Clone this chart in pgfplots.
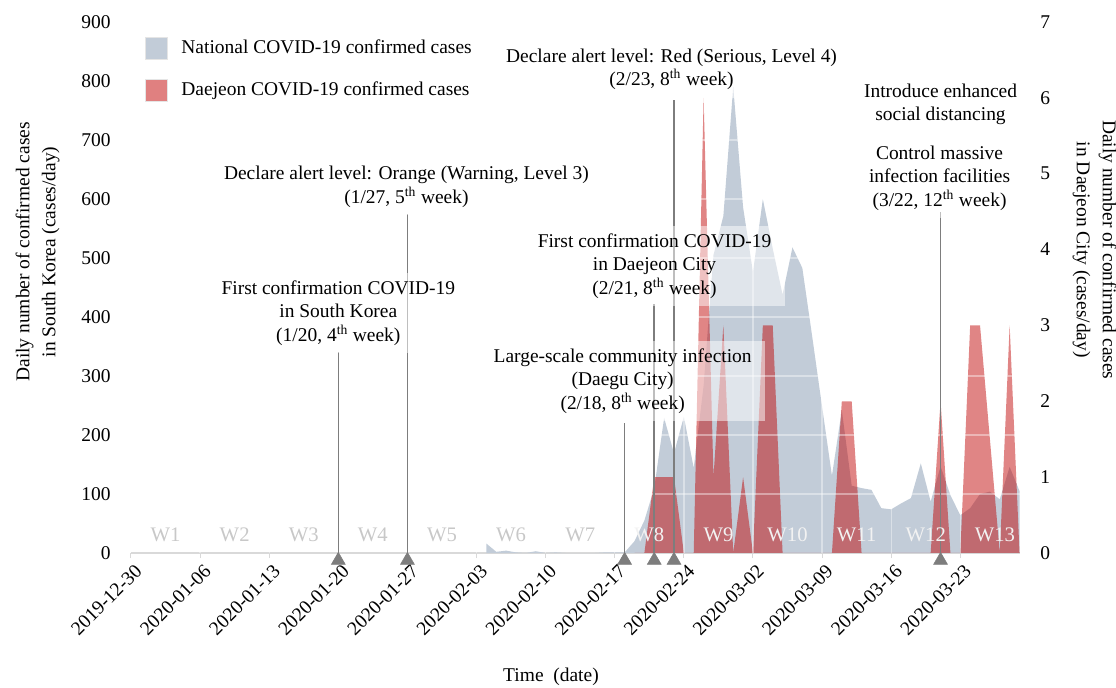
\documentclass[border=0pt]{standalone}
\usepackage{fontspec}
\setmainfont{Liberation Serif}
\usepackage{pgfplots}
\pgfplotsset{compat=1.18}

\definecolor{natfill}{RGB}{194,204,216}
\definecolor{djred}{RGB}{190,0,0}
\definecolor{djlegend}{RGB}{224,128,128}
\definecolor{evgray}{RGB}{125,125,125}
\definecolor{wkgray}{RGB}{200,200,200}
\definecolor{wkwhite}{RGB}{242,242,242}

\tikzset{
  annot/.style={align=center, fill=white, fill opacity=0.5, text opacity=1,
                inner xsep=10pt, inner ysep=6pt},
  wk/.style={inner sep=0pt, font=\fontsize{15.5}{18}\selectfont},
}

\begin{document}
\fontsize{14.6}{17.6}\selectfont
\begin{tikzpicture}
\path[use as bounding box] (-98.25pt,-101.25pt) rectangle (738.75pt,414.75pt);

% left axis: national daily cases
\begin{axis}[
  at={(0pt,0pt)}, anchor=south west, scale only axis,
  width=666.4pt, height=398.25pt,
  xmin=0, xmax=90, ymin=0, ymax=900,
  axis x line*=bottom, axis y line*=left,
  y axis line style={draw=none},
  x axis line style={draw=gray!30, line width=1pt},
  xtick={0,7,...,84},
  xticklabels={2019-12-30,2020-01-06,2020-01-13,2020-01-20,2020-01-27,2020-02-03,2020-02-10,2020-02-17,2020-02-24,2020-03-02,2020-03-09,2020-03-16,2020-03-23},
  xticklabel style={rotate=45, anchor=north east, inner sep=1pt, yshift=-3pt},
  tick align=outside,
  xtick style={draw=gray!30, line width=0.75pt},
  major tick length=3.75pt,
  ytick={0,100,...,900},
  ytick style={draw=none},
  yticklabel style={xshift=-6.5pt},
  /pgf/number format/assume math mode=true,
  xlabel={Time\ \ (date)},
  xlabel style={at={(axis description cs:0.4727,-0.2335)}, anchor=center},
  ylabel={Daily number of confirmed cases\\in South Korea (cases/day)},
  ylabel style={at={(axis description cs:-0.105,0.567)}, anchor=center, align=center,
                font=\fontsize{14.6}{19.5}\selectfont},
]
\addplot[fill=natfill, draw=none] coordinates {
  (36,16) (37,2) (38,4) (39,1) (40,0) (41,3) (42,0) (43,1) (44,0) (45,0)
  (46,0) (47,0) (48,1) (49,1) (50,1) (51,20) (52,55) (53,110) (54,229) (55,169)
  (56,231) (57,144) (58,284) (59,505) (60,571) (61,790) (62,586) (63,476) (64,600) (65,516)
  (66,438) (67,518) (68,483) (69,367) (70,248) (71,131) (72,242) (73,114) (74,110) (75,107)
  (76,76) (77,74) (78,84) (79,93) (80,152) (81,87) (82,147) (83,98) (84,64) (85,76)
  (86,100) (87,104) (88,91) (89,146) (90,105)
} \closedcycle;
\end{axis}

% right axis: Daejeon daily cases, events and notes
\begin{axis}[
  at={(0pt,0pt)}, anchor=south west, scale only axis,
  width=666.4pt, height=398.25pt,
  xmin=0, xmax=90, ymin=0, ymax=7,
  axis x line=none, axis y line*=right,
  y axis line style={draw=none},
  ytick={0,...,7}, ytick style={draw=none},
  yticklabel style={xshift=10.5pt},
  /pgf/number format/assume math mode=true,
  ylabel={Daily number of confirmed cases\\in Daejeon City (cases/day)},
  ylabel style={at={(axis description cs:1.0844,0.571)}, anchor=center, rotate=180,
                align=center, font=\fontsize{14.6}{19.5}\selectfont},
  clip=false,
  legend style={at={(0.0158,0.972)}, anchor=north west, draw=none,
                inner sep=0pt, row sep=14pt, nodes={inner sep=0pt},
                /tikz/every odd column/.append style={column sep=10pt}},
  legend cell align=left,
]
\addlegendimage{legend image code/.code={
    \fill[natfill] (0pt,-8.25pt) rectangle (16.5pt,8.25pt);
    \draw[gray!20, line width=0.6pt] (0pt,-8.25pt) rectangle (16.5pt,8.25pt);}}
\addlegendentry{National COVID-19 confirmed cases}
\addlegendimage{legend image code/.code={
    \fill[djlegend] (0pt,-8.25pt) rectangle (16.5pt,8.25pt);
    \draw[gray!20, line width=0.6pt] (0pt,-8.25pt) rectangle (16.5pt,8.25pt);}}
\addlegendentry{Daejeon COVID-19 confirmed cases}

\addplot[fill=djred, fill opacity=0.48, draw=none, forget plot] coordinates {
  (51,0) (52,0) (53,1) (54,1) (55,1) (56,0) (57,0) (58,6) (59,1) (60,3)
  (61,0) (62,1) (63,0) (64,3) (65,3) (66,0) (67,0) (68,0) (69,0) (70,0)
  (71,0) (72,2) (73,2) (74,0) (75,0) (76,0) (77,0) (78,0) (79,0) (80,0)
  (81,0) (82,2) (83,0) (84,0) (85,3) (86,3) (87,1.5) (88,0) (89,3) (90,0)
} \closedcycle;

% light grid over the areas
\pgfplotsinvokeforeach{0.1111,0.2222,0.3333,0.4444,0.5556,0.6667,0.7778,0.8889}{
  \draw[white, opacity=0.4, line width=1pt] (rel axis cs:0,#1) -- (rel axis cs:1,#1);
}
\pgfplotsinvokeforeach{7,14,...,84}{
  \draw[white, opacity=0.4, line width=1pt] (axis cs:#1,0) -- (axis cs:#1,7);
}

% event lines and markers
\addplot[ycomb, evgray, line width=1.2pt, forget plot] coordinates {
  (21,2.65) (28,4.47) (50,1.71) (53,3.28) (55,5.97) (82,4.50)
};
\addplot[only marks, mark=triangle*, mark size=6pt, evgray, forget plot,
         mark options={yshift=-5.5pt}] coordinates {
  (21,0) (28,0) (50,0) (53,0) (55,0) (82,0)
};

% event notes
\node[annot] at (axis cs:21,3.164) {First confirmation COVID-19\\in South Korea\\(1/20, 4\textsuperscript{th} week)};
\node[annot] at (axis cs:27.9,4.83) {Declare alert level: Orange (Warning, Level 3)\\(1/27, 5\textsuperscript{th} week)};
\node[annot] at (axis cs:49.8,2.267) {Large-scale community infection\\(Daegu City)\\(2/18, 8\textsuperscript{th} week)};
\node[annot] at (axis cs:53.03,3.783) {First confirmation COVID-19\\in Daejeon City\\(2/21, 8\textsuperscript{th} week)};
\node[annot] at (axis cs:54.75,6.374) {Declare alert level: Red (Serious, Level 4)\\(2/23, 8\textsuperscript{th} week)};
\node[annot] at (axis cs:82.0,5.912) {Introduce enhanced\\social distancing};
\node[annot] at (axis cs:81.9,4.943) {Control massive\\infection facilities\\(3/22, 12\textsuperscript{th} week)};

% week labels
\node[wk, text=wkgray] at (axis cs:3.5,0.237) {W1};
\node[wk, text=wkgray] at (axis cs:10.5,0.237) {W2};
\node[wk, text=wkgray] at (axis cs:17.5,0.237) {W3};
\node[wk, text=wkgray] at (axis cs:24.5,0.237) {W4};
\node[wk, text=wkgray] at (axis cs:31.5,0.237) {W5};
\node[wk, text=wkgray] at (axis cs:38.5,0.237) {W6};
\node[wk, text=wkgray] at (axis cs:45.5,0.237) {W7};
\node[wk, text=wkwhite] at (axis cs:52.5,0.237) {W8};
\node[wk, text=wkwhite] at (axis cs:59.5,0.237) {W9};
\node[wk, text=wkwhite] at (axis cs:66.5,0.237) {W10};
\node[wk, text=wkwhite] at (axis cs:73.5,0.237) {W11};
\node[wk, text=wkwhite] at (axis cs:80.5,0.237) {W12};
\node[wk, text=wkwhite] at (axis cs:87.5,0.237) {W13};
\end{axis}
\end{tikzpicture}
\end{document}
